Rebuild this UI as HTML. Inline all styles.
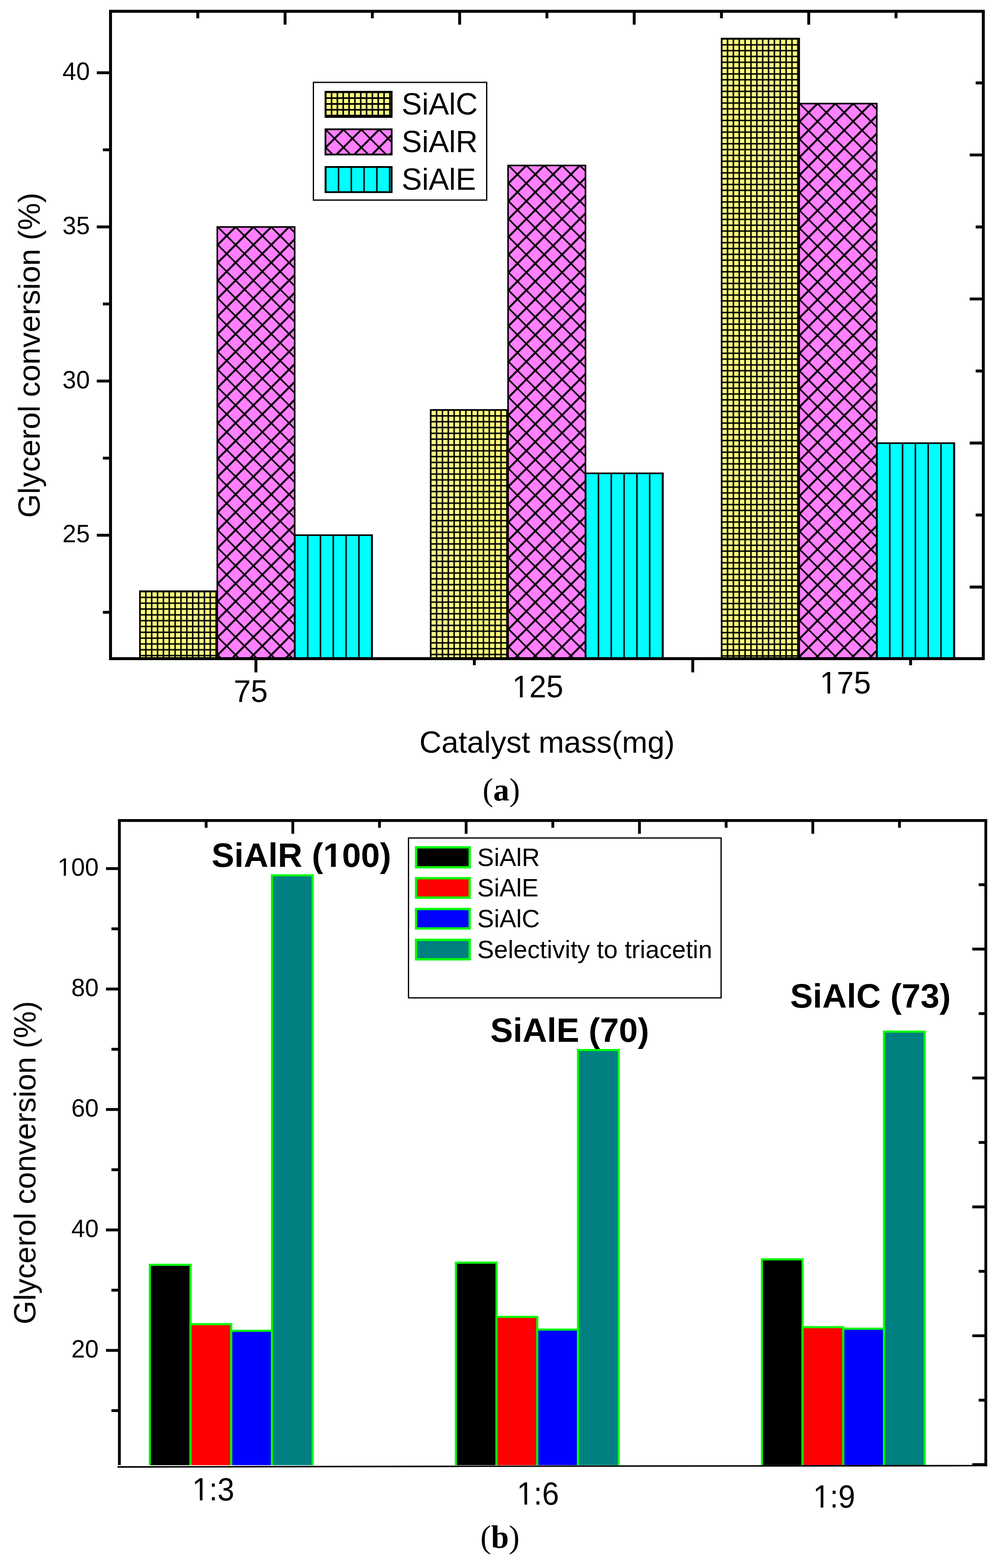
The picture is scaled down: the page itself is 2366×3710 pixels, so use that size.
<!DOCTYPE html>
<html><head><meta charset="utf-8"><title>Glycerol conversion charts</title><style>html,body{margin:0;padding:0;background:#fff;width:2366px;height:3710px;overflow:hidden}svg{display:block}</style></head><body>
<svg xmlns="http://www.w3.org/2000/svg" width="2366" height="3710" viewBox="0 0 2366 3710"><defs><pattern id="p1" patternUnits="userSpaceOnUse" width="13.86" height="13.77" patternTransform="translate(331.2 1413.45)"><rect width="13.86" height="13.77" fill="#FFFF80"></rect><path d="M0 0V13.77M13.86 0V13.77" stroke="#000" stroke-width="3.5"></path><path d="M0 0H13.86M0 13.77H13.86" stroke="#000" stroke-width="3.5"></path></pattern><pattern id="p2" patternUnits="userSpaceOnUse" width="42.19" height="42.19" patternTransform="translate(515.23 537)"><rect width="42.19" height="42.19" fill="#FF80FF"></rect><path d="M-42.19 -42.19L84.38 84.38M-42.19 0L42.19 84.38M0 -42.19L84.38 42.19" stroke="#000" stroke-width="3.7"></path><path d="M-42.19 42.19L42.19 -42.19M-42.19 84.38L84.38 -42.19M0 84.38L84.38 0" stroke="#000" stroke-width="4.6"></path></pattern><pattern id="p3" patternUnits="userSpaceOnUse" width="30.3" height="100" patternTransform="translate(697.66 1266.2)"><rect width="30.3" height="100" fill="#00FFFF"></rect><path d="M0 0V100M30.3 0V100" stroke="#000" stroke-width="3.4"></path></pattern><pattern id="p4" patternUnits="userSpaceOnUse" width="13.86" height="13.77" patternTransform="translate(1019.1 984)"><rect width="13.86" height="13.77" fill="#FFFF80"></rect><path d="M0 0V13.77M13.86 0V13.77" stroke="#000" stroke-width="3.5"></path><path d="M0 0H13.86M0 13.77H13.86" stroke="#000" stroke-width="3.5"></path></pattern><pattern id="p5" patternUnits="userSpaceOnUse" width="42.19" height="42.19" patternTransform="translate(1203.2 391.5)"><rect width="42.19" height="42.19" fill="#FF80FF"></rect><path d="M-42.19 -42.19L84.38 84.38M-42.19 0L42.19 84.38M0 -42.19L84.38 42.19" stroke="#000" stroke-width="3.7"></path><path d="M-42.19 42.19L42.19 -42.19M-42.19 84.38L84.38 -42.19M0 84.38L84.38 0" stroke="#000" stroke-width="4.6"></path></pattern><pattern id="p6" patternUnits="userSpaceOnUse" width="30.3" height="100" patternTransform="translate(1385.7 1119.9)"><rect width="30.3" height="100" fill="#00FFFF"></rect><path d="M0 0V100M30.3 0V100" stroke="#000" stroke-width="3.4"></path></pattern><pattern id="p7" patternUnits="userSpaceOnUse" width="13.86" height="13.77" patternTransform="translate(1707.5 106.05)"><rect width="13.86" height="13.77" fill="#FFFF80"></rect><path d="M0 0V13.77M13.86 0V13.77" stroke="#000" stroke-width="3.5"></path><path d="M0 0H13.86M0 13.77H13.86" stroke="#000" stroke-width="3.5"></path></pattern><pattern id="p8" patternUnits="userSpaceOnUse" width="42.19" height="42.19" patternTransform="translate(1892 245.1)"><rect width="42.19" height="42.19" fill="#FF80FF"></rect><path d="M-42.19 -42.19L84.38 84.38M-42.19 0L42.19 84.38M0 -42.19L84.38 42.19" stroke="#000" stroke-width="3.7"></path><path d="M-42.19 42.19L42.19 -42.19M-42.19 84.38L84.38 -42.19M0 84.38L84.38 0" stroke="#000" stroke-width="4.6"></path></pattern><pattern id="p9" patternUnits="userSpaceOnUse" width="30.3" height="100" patternTransform="translate(2074.9 1048.5)"><rect width="30.3" height="100" fill="#00FFFF"></rect><path d="M0 0V100M30.3 0V100" stroke="#000" stroke-width="3.4"></path></pattern><pattern id="p10" patternUnits="userSpaceOnUse" width="13.8" height="13.8" patternTransform="translate(770.7 218.3)"><rect width="13.8" height="13.8" fill="#FFFF80"></rect><path d="M0 0V13.8M13.8 0V13.8" stroke="#000" stroke-width="3.7"></path><path d="M0 0H13.8M0 13.8H13.8" stroke="#000" stroke-width="3.7"></path></pattern><pattern id="p11" patternUnits="userSpaceOnUse" width="42.19" height="42.19" patternTransform="translate(770.5 306.7)"><rect width="42.19" height="42.19" fill="#FF80FF"></rect><path d="M-42.19 -42.19L84.38 84.38M-42.19 0L42.19 84.38M0 -42.19L84.38 42.19" stroke="#000" stroke-width="3.7"></path><path d="M-42.19 42.19L42.19 -42.19M-42.19 84.38L84.38 -42.19M0 84.38L84.38 0" stroke="#000" stroke-width="4.6"></path></pattern><pattern id="p12" patternUnits="userSpaceOnUse" width="30.2" height="100" patternTransform="translate(770.8 395.1)"><rect width="30.2" height="100" fill="#00FFFF"></rect><path d="M0 0V100M30.2 0V100" stroke="#000" stroke-width="3.4"></path></pattern></defs><rect width="2366" height="3710" fill="#fff"></rect><rect x="331" y="1398.75" width="183.13" height="159.65" fill="url(#p1)" stroke="#000" stroke-width="3.7"></rect>
<rect x="514.13" y="537" width="183.13" height="1021.4" fill="url(#p2)" stroke="#000" stroke-width="3.7"></rect>
<rect x="697.26" y="1266.2" width="183.13" height="292.2" fill="url(#p3)" stroke="#000" stroke-width="3.7"></rect>
<rect x="1018.9" y="969.9" width="183.2" height="588.5" fill="url(#p4)" stroke="#000" stroke-width="3.7"></rect>
<rect x="1202.1" y="391.5" width="183.2" height="1166.9" fill="url(#p5)" stroke="#000" stroke-width="3.7"></rect>
<rect x="1385.3" y="1119.9" width="183.2" height="438.5" fill="url(#p6)" stroke="#000" stroke-width="3.7"></rect>
<rect x="1707.3" y="91.2" width="183.6" height="1467.2" fill="url(#p7)" stroke="#000" stroke-width="3.7"></rect>
<rect x="1890.9" y="245.1" width="183.6" height="1313.3" fill="url(#p8)" stroke="#000" stroke-width="3.7"></rect>
<rect x="2074.5" y="1048.5" width="183.6" height="509.9" fill="url(#p9)" stroke="#000" stroke-width="3.7"></rect>
<rect x="261.5" y="26.75" width="2065" height="1531.65" fill="none" stroke="#000" stroke-width="7"></rect>
<path d="M229 172.1L261.5 172.1" stroke="#000" stroke-width="6.7" stroke-linecap="butt"></path>
<path d="M229 536.85L261.5 536.85" stroke="#000" stroke-width="6.7" stroke-linecap="butt"></path>
<path d="M229 901.6L261.5 901.6" stroke="#000" stroke-width="6.7" stroke-linecap="butt"></path>
<path d="M229 1266.35L261.5 1266.35" stroke="#000" stroke-width="6.7" stroke-linecap="butt"></path>
<path d="M243.5 354.48L261.5 354.48" stroke="#000" stroke-width="6.7" stroke-linecap="butt"></path>
<path d="M243.5 719.23L261.5 719.23" stroke="#000" stroke-width="6.7" stroke-linecap="butt"></path>
<path d="M243.5 1083.97L261.5 1083.97" stroke="#000" stroke-width="6.7" stroke-linecap="butt"></path>
<path d="M243.5 1448.72L261.5 1448.72" stroke="#000" stroke-width="6.7" stroke-linecap="butt"></path>
<path d="M468 26.75L468 43.3" stroke="#000" stroke-width="6.8" stroke-linecap="butt"></path>
<path d="M674.5 26.75L674.5 58.4" stroke="#000" stroke-width="6.8" stroke-linecap="butt"></path>
<path d="M881 26.75L881 43.3" stroke="#000" stroke-width="6.8" stroke-linecap="butt"></path>
<path d="M1087.5 26.75L1087.5 58.4" stroke="#000" stroke-width="6.8" stroke-linecap="butt"></path>
<path d="M1294 26.75L1294 43.3" stroke="#000" stroke-width="6.8" stroke-linecap="butt"></path>
<path d="M1500.5 26.75L1500.5 58.4" stroke="#000" stroke-width="6.8" stroke-linecap="butt"></path>
<path d="M1707 26.75L1707 43.3" stroke="#000" stroke-width="6.8" stroke-linecap="butt"></path>
<path d="M1913.5 26.75L1913.5 58.4" stroke="#000" stroke-width="6.8" stroke-linecap="butt"></path>
<path d="M2120 26.75L2120 43.3" stroke="#000" stroke-width="6.8" stroke-linecap="butt"></path>
<path d="M2294.4 1389L2326.5 1389" stroke="#000" stroke-width="6.9" stroke-linecap="butt"></path>
<path d="M2308.5 1218.6L2326.5 1218.6" stroke="#000" stroke-width="6.9" stroke-linecap="butt"></path>
<path d="M2294.4 1048.2L2326.5 1048.2" stroke="#000" stroke-width="6.9" stroke-linecap="butt"></path>
<path d="M2308.5 877.8L2326.5 877.8" stroke="#000" stroke-width="6.9" stroke-linecap="butt"></path>
<path d="M2294.4 707.4L2326.5 707.4" stroke="#000" stroke-width="6.9" stroke-linecap="butt"></path>
<path d="M2308.5 537L2326.5 537" stroke="#000" stroke-width="6.9" stroke-linecap="butt"></path>
<path d="M2294.4 366.6L2326.5 366.6" stroke="#000" stroke-width="6.9" stroke-linecap="butt"></path>
<path d="M2308.5 196.2L2326.5 196.2" stroke="#000" stroke-width="6.9" stroke-linecap="butt"></path>
<path d="M605.5 1558.4L605.5 1590.9" stroke="#000" stroke-width="6.8" stroke-linecap="butt"></path>
<path d="M1122.3 1558.4L1122.3 1574" stroke="#000" stroke-width="6.8" stroke-linecap="butt"></path>
<path d="M1639 1558.4L1639 1590.9" stroke="#000" stroke-width="6.8" stroke-linecap="butt"></path>
<path d="M2154.5 1558.4L2154.5 1574" stroke="#000" stroke-width="6.8" stroke-linecap="butt"></path>
<text x="147.83" y="189" font-family="&quot;Liberation Sans&quot;, Arial, sans-serif" font-size="58.3">40</text>
<text x="147.83" y="553.75" font-family="&quot;Liberation Sans&quot;, Arial, sans-serif" font-size="58.3">35</text>
<text x="147.83" y="918.5" font-family="&quot;Liberation Sans&quot;, Arial, sans-serif" font-size="58.3">30</text>
<text x="147.83" y="1283.25" font-family="&quot;Liberation Sans&quot;, Arial, sans-serif" font-size="58.3">25</text>
<g transform="translate(552.91 1661.2) scale(0.973 1)"><text x="0" y="0" font-family="&quot;Liberation Sans&quot;, Arial, sans-serif" font-size="74.5">75</text></g>
<g transform="translate(1211.96 1650.1) scale(0.973 1)"><text x="0" y="0" font-family="&quot;Liberation Sans&quot;, Arial, sans-serif" font-size="74.5">125</text><rect x="3.59" y="-6.97" width="15.14" height="8.57" fill="#fff"></rect><rect x="25.32" y="-6.97" width="14.38" height="8.57" fill="#fff"></rect></g>
<g transform="translate(1939.56 1641.1) scale(0.973 1)"><text x="0" y="0" font-family="&quot;Liberation Sans&quot;, Arial, sans-serif" font-size="74.5">175</text><rect x="3.59" y="-6.97" width="15.14" height="8.57" fill="#fff"></rect><rect x="25.32" y="-6.97" width="14.38" height="8.57" fill="#fff"></rect></g>
<text x="992.2" y="1780.8" font-family="&quot;Liberation Sans&quot;, Arial, sans-serif" font-size="72.5">Catalyst mass(mg)</text>
<text transform="translate(94.3 1225.33) rotate(-90)" font-family="&quot;Liberation Sans&quot;, Arial, sans-serif" font-size="72.5">Glycerol conversion (%)</text>
<rect x="741.5" y="194.9" width="410" height="278.5" fill="#fff" stroke="#000" stroke-width="3"></rect>
<rect x="770.1" y="217.1" width="156.55" height="59.6" fill="url(#p10)" stroke="#000" stroke-width="4.2"></rect>
<text x="950.24" y="270.5" font-family="&quot;Liberation Sans&quot;, Arial, sans-serif" font-size="72">SiAlC</text>
<rect x="770.1" y="305.9" width="156.55" height="59.7" fill="url(#p11)" stroke="#000" stroke-width="4.2"></rect>
<text x="950.24" y="360" font-family="&quot;Liberation Sans&quot;, Arial, sans-serif" font-size="72">SiAlR</text>
<rect x="770.1" y="395.1" width="156.55" height="59.5" fill="url(#p12)" stroke="#000" stroke-width="4.2"></rect>
<text x="950.24" y="449" font-family="&quot;Liberation Sans&quot;, Arial, sans-serif" font-size="72">SiAlE</text>
<text x="1141.81" y="1894" font-family="&quot;Liberation Serif&quot;, &quot;Times New Roman&quot;, serif" font-size="76">(<tspan font-weight="bold">a</tspan>)</text>
<rect x="354.5" y="2992.6" width="96.3" height="476.9" fill="#000000" stroke="#00FF00" stroke-width="5"></rect>
<rect x="450.8" y="3133" width="96.3" height="336.5" fill="#FF0000" stroke="#00FF00" stroke-width="5"></rect>
<rect x="547.1" y="3148.7" width="96.3" height="320.8" fill="#0000FF" stroke="#00FF00" stroke-width="5"></rect>
<rect x="643.4" y="2071.1" width="96.3" height="1398.4" fill="#008080" stroke="#00FF00" stroke-width="5"></rect>
<rect x="1078.55" y="2987.5" width="96.3" height="482" fill="#000000" stroke="#00FF00" stroke-width="5"></rect>
<rect x="1174.85" y="3115.8" width="96.3" height="353.7" fill="#FF0000" stroke="#00FF00" stroke-width="5"></rect>
<rect x="1271.15" y="3145.9" width="96.3" height="323.6" fill="#0000FF" stroke="#00FF00" stroke-width="5"></rect>
<rect x="1367.45" y="2484.5" width="96.3" height="985" fill="#008080" stroke="#00FF00" stroke-width="5"></rect>
<rect x="1802.6" y="2979.7" width="96.3" height="489.8" fill="#000000" stroke="#00FF00" stroke-width="5"></rect>
<rect x="1898.9" y="3140.1" width="96.3" height="329.4" fill="#FF0000" stroke="#00FF00" stroke-width="5"></rect>
<rect x="1995.2" y="3143.8" width="96.3" height="325.7" fill="#0000FF" stroke="#00FF00" stroke-width="5"></rect>
<rect x="2091.5" y="2440.9" width="96.3" height="1028.6" fill="#008080" stroke="#00FF00" stroke-width="5"></rect>
<rect x="282.7" y="3466.7" width="2050" height="12" fill="#fff"></rect>
<path d="M279.1 1941.4L2335.7 1941.4" stroke="#000" stroke-width="6.8" stroke-linecap="butt"></path>
<path d="M282.45 1938.5L282.45 3466.6" stroke="#000" stroke-width="6.7" stroke-linecap="butt"></path>
<path d="M2332.4 1938.5L2332.4 3469.2" stroke="#000" stroke-width="6.6" stroke-linecap="butt"></path>
<path d="M278 3469.1L1086 3467.7L2254 3466L2254 3466L2336 3466L2336 3469.2L2254 3469.7L1086 3470.9L1086 3471.25L278 3472.8Z" fill="#000"></path>
<path d="M250.8 2055.2L282.7 2055.2" stroke="#000" stroke-width="6.7" stroke-linecap="butt"></path>
<path d="M250.8 2340.18L282.7 2340.18" stroke="#000" stroke-width="6.7" stroke-linecap="butt"></path>
<path d="M250.8 2625.16L282.7 2625.16" stroke="#000" stroke-width="6.7" stroke-linecap="butt"></path>
<path d="M250.8 2910.14L282.7 2910.14" stroke="#000" stroke-width="6.7" stroke-linecap="butt"></path>
<path d="M250.8 3195.12L282.7 3195.12" stroke="#000" stroke-width="6.7" stroke-linecap="butt"></path>
<path d="M263.7 2197.69L282.7 2197.69" stroke="#000" stroke-width="6.7" stroke-linecap="butt"></path>
<path d="M263.7 2482.67L282.7 2482.67" stroke="#000" stroke-width="6.7" stroke-linecap="butt"></path>
<path d="M263.7 2767.65L282.7 2767.65" stroke="#000" stroke-width="6.7" stroke-linecap="butt"></path>
<path d="M263.7 3052.63L282.7 3052.63" stroke="#000" stroke-width="6.7" stroke-linecap="butt"></path>
<path d="M263.7 3337.61L282.7 3337.61" stroke="#000" stroke-width="6.7" stroke-linecap="butt"></path>
<path d="M487.75 1941.5L487.75 1958.6" stroke="#000" stroke-width="6.6" stroke-linecap="butt"></path>
<path d="M692.8 1941.5L692.8 1972.8" stroke="#000" stroke-width="6.6" stroke-linecap="butt"></path>
<path d="M897.85 1941.5L897.85 1958.6" stroke="#000" stroke-width="6.6" stroke-linecap="butt"></path>
<path d="M1102.9 1941.5L1102.9 1972.8" stroke="#000" stroke-width="6.6" stroke-linecap="butt"></path>
<path d="M1307.95 1941.5L1307.95 1958.6" stroke="#000" stroke-width="6.6" stroke-linecap="butt"></path>
<path d="M1513 1941.5L1513 1972.8" stroke="#000" stroke-width="6.6" stroke-linecap="butt"></path>
<path d="M1718.05 1941.5L1718.05 1958.6" stroke="#000" stroke-width="6.6" stroke-linecap="butt"></path>
<path d="M1923.1 1941.5L1923.1 1972.8" stroke="#000" stroke-width="6.6" stroke-linecap="butt"></path>
<path d="M2128.15 1941.5L2128.15 1958.6" stroke="#000" stroke-width="6.6" stroke-linecap="butt"></path>
<path d="M2300.4 3465.4L2332.7 3465.4" stroke="#000" stroke-width="6.7" stroke-linecap="butt"></path>
<path d="M2315.6 3312.94L2332.7 3312.94" stroke="#000" stroke-width="6.7" stroke-linecap="butt"></path>
<path d="M2300.4 3160.48L2332.7 3160.48" stroke="#000" stroke-width="6.7" stroke-linecap="butt"></path>
<path d="M2315.6 3008.02L2332.7 3008.02" stroke="#000" stroke-width="6.7" stroke-linecap="butt"></path>
<path d="M2300.4 2855.56L2332.7 2855.56" stroke="#000" stroke-width="6.7" stroke-linecap="butt"></path>
<path d="M2315.6 2703.1L2332.7 2703.1" stroke="#000" stroke-width="6.7" stroke-linecap="butt"></path>
<path d="M2300.4 2550.64L2332.7 2550.64" stroke="#000" stroke-width="6.7" stroke-linecap="butt"></path>
<path d="M2315.6 2398.18L2332.7 2398.18" stroke="#000" stroke-width="6.7" stroke-linecap="butt"></path>
<path d="M2300.4 2245.72L2332.7 2245.72" stroke="#000" stroke-width="6.7" stroke-linecap="butt"></path>
<path d="M2315.6 2093.26L2332.7 2093.26" stroke="#000" stroke-width="6.7" stroke-linecap="butt"></path>
<text x="136.17" y="2072.1" font-family="&quot;Liberation Sans&quot;, Arial, sans-serif" font-size="58.3">100</text><rect x="138.66" y="2066.34" width="12.18" height="7.36" fill="#fff"></rect><rect x="155.98" y="2066.34" width="11.58" height="7.36" fill="#fff"></rect>
<text x="168.63" y="2357.08" font-family="&quot;Liberation Sans&quot;, Arial, sans-serif" font-size="58.3">80</text>
<text x="168.63" y="2642.06" font-family="&quot;Liberation Sans&quot;, Arial, sans-serif" font-size="58.3">60</text>
<text x="168.63" y="2927.04" font-family="&quot;Liberation Sans&quot;, Arial, sans-serif" font-size="58.3">40</text>
<text x="168.63" y="3212.02" font-family="&quot;Liberation Sans&quot;, Arial, sans-serif" font-size="58.3">20</text>
<g transform="translate(454.76 3549.9) scale(0.95 1)"><text x="0" y="0" font-family="&quot;Liberation Sans&quot;, Arial, sans-serif" font-size="75.5">1:3</text><rect x="3.66" y="-7.04" width="15.32" height="8.64" fill="#fff"></rect><rect x="25.66" y="-7.04" width="14.55" height="8.64" fill="#fff"></rect></g>
<g transform="translate(1222.86 3559.5) scale(0.95 1)"><text x="0" y="0" font-family="&quot;Liberation Sans&quot;, Arial, sans-serif" font-size="75.5">1:6</text><rect x="3.66" y="-7.04" width="15.32" height="8.64" fill="#fff"></rect><rect x="25.66" y="-7.04" width="14.55" height="8.64" fill="#fff"></rect></g>
<g transform="translate(1923.66 3567.3) scale(0.95 1)"><text x="0" y="0" font-family="&quot;Liberation Sans&quot;, Arial, sans-serif" font-size="75.5">1:9</text><rect x="3.66" y="-7.04" width="15.32" height="8.64" fill="#fff"></rect><rect x="25.66" y="-7.04" width="14.55" height="8.64" fill="#fff"></rect></g>
<text transform="translate(83.6 3133.61) rotate(-90)" font-family="&quot;Liberation Sans&quot;, Arial, sans-serif" font-size="72.1">Glycerol conversion (%)</text>
<text x="500.58" y="2051" font-family="&quot;Liberation Sans&quot;, Arial, sans-serif" font-size="80.5" font-weight="bold">SiAlR (100)</text><rect x="767.46" y="2041.38" width="15.77" height="11.22" fill="#fff"></rect><rect x="794.27" y="2041.38" width="14.71" height="11.22" fill="#fff"></rect>
<text x="1160.09" y="2465.2" font-family="&quot;Liberation Sans&quot;, Arial, sans-serif" font-size="80.5" font-weight="bold">SiAlE (70)</text>
<text x="1869.38" y="2384.2" font-family="&quot;Liberation Sans&quot;, Arial, sans-serif" font-size="80.5" font-weight="bold">SiAlC (73)</text>
<rect x="966.5" y="1982.8" width="739.6" height="378.2" fill="#fff" stroke="#000" stroke-width="3"></rect>
<rect x="984.35" y="2004.85" width="126.9" height="47.2" fill="#000000" stroke="#00FF00" stroke-width="5.5"></rect>
<text x="1129.24" y="2049.3" font-family="&quot;Liberation Sans&quot;, Arial, sans-serif" font-size="59.2">SiAlR</text>
<rect x="984.35" y="2077.85" width="126.9" height="46" fill="#FF0000" stroke="#00FF00" stroke-width="5.5"></rect>
<text x="1129.24" y="2120.9" font-family="&quot;Liberation Sans&quot;, Arial, sans-serif" font-size="59.2">SiAlE</text>
<rect x="984.35" y="2150.75" width="126.9" height="46" fill="#0000FF" stroke="#00FF00" stroke-width="5.5"></rect>
<text x="1129.24" y="2194.3" font-family="&quot;Liberation Sans&quot;, Arial, sans-serif" font-size="59.2">SiAlC</text>
<rect x="984.35" y="2223.75" width="126.9" height="46" fill="#008080" stroke="#00FF00" stroke-width="5.5"></rect>
<text x="1129.24" y="2267.1" font-family="&quot;Liberation Sans&quot;, Arial, sans-serif" font-size="59.2">Selectivity to triacetin</text>
<text x="1136.51" y="3662" font-family="&quot;Liberation Serif&quot;, &quot;Times New Roman&quot;, serif" font-size="76">(<tspan font-weight="bold">b</tspan>)</text></svg>
</body></html>
